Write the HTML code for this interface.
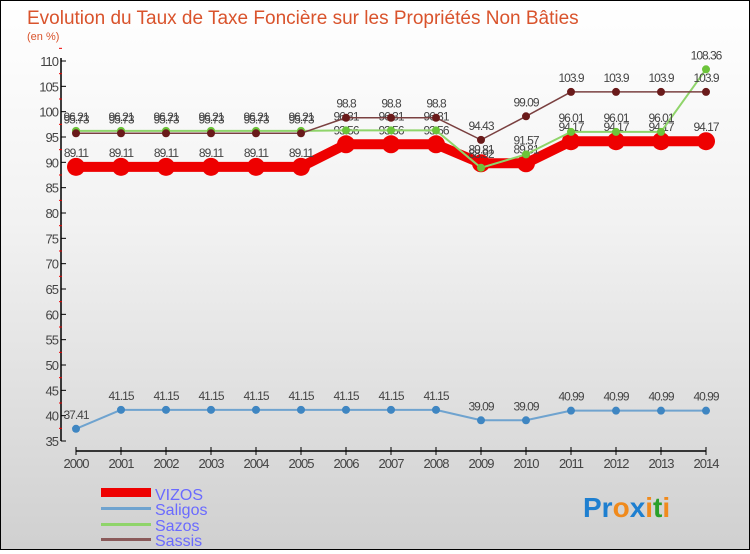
<!DOCTYPE html>
<html><head><meta charset="utf-8"><style>
body{margin:0;width:750px;height:550px;overflow:hidden;font-family:"Liberation Sans",sans-serif}
#wrap{position:relative;width:748px;height:548px;border:1px solid #000;background:linear-gradient(#ffffff,#f2f2f2 40%,#d0d0d0)}
</style></head><body>
<div id="wrap">
<svg id="c" width="748" height="548" font-family="Liberation Sans, sans-serif">
<text x="26" y="23" font-size="19" fill="#d9532c">Evolution du Taux de Taxe Foncière sur les Propriétés Non Bâties</text>
<text x="26" y="39" font-size="11" fill="#d9532c">(en %)</text>
<g id="axes"></g><g id="series"></g>
<g>
<rect x="100" y="487" width="50" height="9" fill="#e00"/>
<text x="154" y="499" font-size="16" fill="#6a6aff">VIZOS</text>
<rect x="100" y="506" width="50" height="3" fill="#6fa3cf"/>
<text x="154" y="514" font-size="16" fill="#6a6aff">Saligos</text>
<rect x="100" y="522" width="50" height="3" fill="#8fd46a"/>
<text x="154" y="530" font-size="16" fill="#6a6aff">Sazos</text>
<rect x="100" y="537" width="50" height="3" fill="#8a5a5a"/>
<text x="154" y="545" font-size="16" fill="#6a6aff">Sassis</text>
</g>
<g font-size="28" font-weight="bold">
<text x="582" y="516"><tspan fill="#1e7fd0">Pr</tspan><tspan fill="#f08a1c">o</tspan><tspan fill="#1e7fd0">x</tspan><tspan fill="#f08a1c">i</tspan><tspan fill="#2aa02a">t</tspan><tspan fill="#f08a1c">i</tspan></text>
</g>
</svg>
</div>
<script>
const years=["2000","2001","2002","2003","2004","2005","2006","2007","2008","2009","2010","2011","2012","2013","2014"];
const yTicks=[35,40,45,50,55,60,65,70,75,80,85,90,95,100,105,110];
const vizos=[89.11,89.11,89.11,89.11,89.11,89.11,93.56,93.56,93.56,89.81,89.81,94.17,94.17,94.17,94.17];
const saligos=[37.41,41.15,41.15,41.15,41.15,41.15,41.15,41.15,41.15,39.09,39.09,40.99,40.99,40.99,40.99];
const sazos=[96.21,96.21,96.21,96.21,96.21,96.21,96.31,96.31,96.31,88.92,91.57,96.01,96.01,96.01,108.36];
const sassis=[95.73,95.73,95.73,95.73,95.73,95.73,98.8,98.8,98.8,94.43,99.09,103.9,103.9,103.9,103.9];
const NS="http://www.w3.org/2000/svg";
const xs=i=>75+i*45;
const ys=v=>440-(v-35)*(380/75);
function mk(t,a,p){const e=document.createElementNS(NS,t);for(const k in a)e.setAttribute(k,a[k]);p.appendChild(e);return e;}
const ax=document.getElementById('axes');
let yl=mk('line',{x1:60,y1:57,x2:60,y2:440,stroke:'#000','stroke-width':1.5},ax);


yTicks.forEach(v=>{
 mk('line',{x1:60,y1:ys(v),x2:65,y2:ys(v),stroke:'#000'},ax);
 mk('line',{x1:58,y1:ys(v+2.5),x2:61,y2:ys(v+2.5),stroke:'#e00'},ax);
 const t=mk('text',{x:57,y:ys(v)+5,'text-anchor':'end','font-size':13,fill:'#444','letter-spacing':'-1'},ax);
 t.textContent=v;
 
 
});
let xl=mk('line',{x1:75,y1:450,x2:705,y2:450,stroke:'#000','stroke-width':1.5},ax);


years.forEach((y,i)=>{
 mk('line',{x1:xs(i),y1:446,x2:xs(i),y2:454,stroke:'#000'},ax);
 const t=mk('text',{x:xs(i),y:467,'text-anchor':'middle','font-size':13,fill:'#444','letter-spacing':'-1'},ax);
 t.textContent=y;
 
 
});
const sg=document.getElementById('series');
function draw(name,data,col,w,r,dot){
 const g=mk('g',{},sg);
 
 
 const pl=mk('polyline',{points:data.map((v,i)=>xs(i)+','+ys(v)).join(' '),fill:'none',stroke:col,'stroke-width':w,'stroke-linejoin':'round'},g);
 
 
 data.forEach((v,i)=>{
  const c=mk('circle',{cx:xs(i),cy:ys(v),r:r,fill:dot},g);
  
  
  const t=mk('text',{x:xs(i),y:ys(v)-10,'text-anchor':'middle','font-size':12,fill:'#444','letter-spacing':'-1'},g);
  t.textContent=v;
  
  
 });
}
draw('saligos',saligos,'#6fa3cf',2,4,'#3f86c2');
draw('vizos',vizos,'#e00',10,9,'#e00');
draw('sazos',sazos,'#8fd46a',2,4,'#6cc43a');
draw('sassis',sassis,'#7a4040',1.5,4,'#6a1a1a');
</script>
</body></html>
